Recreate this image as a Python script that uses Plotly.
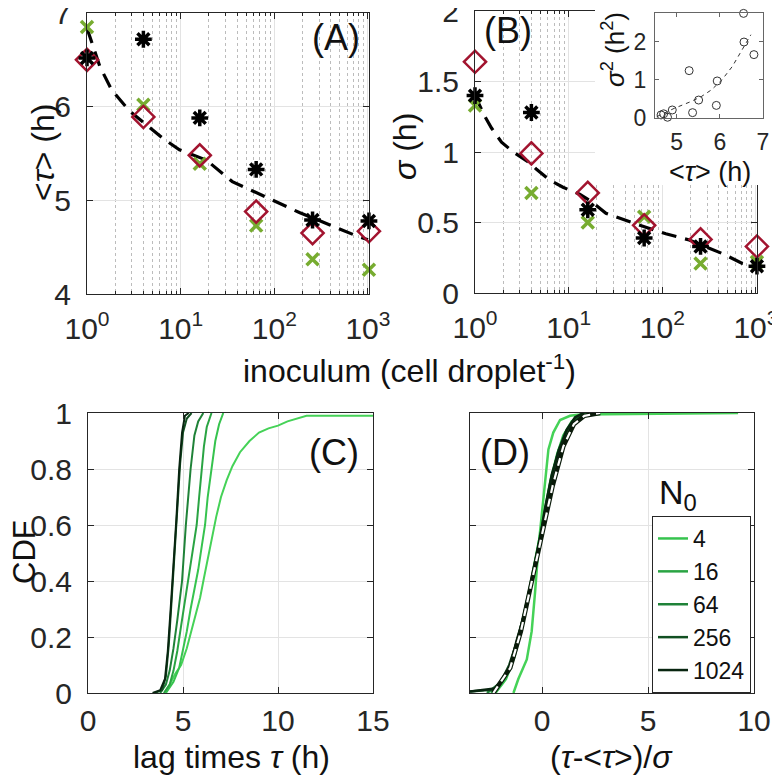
import plotly.graph_objects as go

W, H = 780, 781          # browser window
OFF = 8                  # default page (body) margin around the plot div
FW, FH = W - OFF, H - OFF
FONT = "Liberation Sans, Arial, sans-serif"
AX = "#262626"

# ---------------- data ----------------
inoculum = [1, 4, 16, 64, 256, 1024]
# panel A: mean lag time <tau> (h)
A_star = [6.52, 6.72, 5.88, 5.33, 4.79, 4.78]
A_diam = [6.50, 5.89, 5.48, 4.88, 4.65, 4.67]
A_cross = [6.85, 6.02, 5.39, 4.73, 4.37, 4.26]
A_fit_x = [1.0, 1.03, 1.37, 1.83, 2.87, 6.5, 9.7, 18.8, 35.6, 96, 185, 387, 800, 1000]
A_fit_y = [6.83, 6.80, 6.43, 6.18, 5.95, 5.66, 5.54, 5.43, 5.20, 5.00, 4.87, 4.74, 4.61, 4.58]
# panel B: sigma (h)
B_star = [1.40, 1.28, 0.59, 0.39, 0.33, 0.19]
B_diam = [1.64, 0.99, 0.71, 0.48, 0.38, 0.33]
B_cross = [1.33, 0.71, 0.50, 0.54, 0.21, 0.22]
B_fit_x = [1, 1.28, 1.5, 1.92, 2.56, 3.7, 4.5, 6.3, 8.7, 13.1, 17.4, 25, 52, 109, 194, 437, 715, 1000]
B_fit_y = [1.40, 1.25, 1.17, 1.07, 1.00, 0.93, 0.88, 0.80, 0.75, 0.70, 0.65, 0.565, 0.49, 0.42, 0.376, 0.28, 0.21, 0.19]
# inset: sigma^2 vs <tau>
I_x = [6.55, 6.56, 6.79, 5.29, 5.94, 5.51, 5.92, 5.37, 4.90, 4.70, 4.79, 4.64]
I_y = [2.74, 1.99, 1.66, 1.24, 0.97, 0.47, 0.33, 0.14, 0.21, 0.11, 0.02, 0.08]
I_fit_x = [4.54, 4.94, 5.33, 5.57, 5.81, 6.05, 6.29, 6.52, 6.72]
I_fit_y = [0.035, 0.25, 0.43, 0.56, 0.74, 1.00, 1.35, 1.79, 2.18]

# panel C: CDF of lag times (h)
C_curves = {
    "1": ([4.0, 4.3, 4.6, 4.9, 5.2, 5.4, 5.6, 5.9, 6.1, 6.3, 6.5, 6.75, 7.0, 7.3, 7.6, 8.0, 8.5, 9.0, 9.5, 10.0, 10.5, 11.0, 11.5, 15.0],
          [0, 0.03, 0.07, 0.10, 0.16, 0.21, 0.26, 0.34, 0.41, 0.48, 0.55, 0.63, 0.70, 0.76, 0.81, 0.86, 0.90, 0.93, 0.945, 0.955, 0.97, 0.98, 0.99, 0.99]),
    "4": ([4.1, 4.5, 4.8, 5.0, 5.2, 5.4, 5.6, 5.8, 6.0, 6.16, 6.3, 6.5, 6.7, 6.9, 7.12],
          [0, 0.04, 0.09, 0.15, 0.22, 0.30, 0.37, 0.44, 0.53, 0.60, 0.70, 0.80, 0.90, 0.96, 1.0]),
    "16": ([4.0, 4.3, 4.5, 4.7, 4.9, 5.1, 5.3, 5.5, 5.72, 5.85, 5.98, 6.1, 6.25, 6.5],
           [0, 0.03, 0.08, 0.15, 0.24, 0.33, 0.42, 0.51, 0.60, 0.70, 0.80, 0.88, 0.95, 1.0]),
    "64": ([3.8, 4.1, 4.3, 4.5, 4.7, 4.85, 4.95, 5.15, 5.4, 5.6, 5.8, 6.07],
           [0, 0.03, 0.08, 0.16, 0.26, 0.34, 0.40, 0.60, 0.80, 0.92, 0.97, 1.0]),
    "256": ([3.5, 3.9, 4.1, 4.25, 4.4, 4.55, 4.7, 4.85, 5.0, 5.2, 5.45],
            [0, 0.01, 0.06, 0.17, 0.33, 0.50, 0.67, 0.82, 0.93, 0.98, 1.0]),
    "1024": ([3.4, 3.8, 4.05, 4.2, 4.35, 4.5, 4.65, 4.8, 4.95, 5.1, 5.3],
             [0, 0.01, 0.05, 0.15, 0.30, 0.45, 0.62, 0.80, 0.93, 0.99, 1.0]),
}
# panel D: CDF of rescaled lag times
D_curves = {
    "1": ([-1.35, -1.12, -0.72, -0.49, -0.33, -0.17, -0.01, 0.14, 0.30, 0.53, 0.85, 1.32, 1.8, 9.25],
          [0, 0.05, 0.12, 0.22, 0.36, 0.52, 0.64, 0.75, 0.87, 0.93, 0.975, 0.99, 0.995, 1.0]),
    "4": ([-2.2, -1.7, -1.3, -0.9, -0.5, -0.2, 0.1, 0.4, 0.7, 1.0, 1.4, 1.8, 2.2],
          [0, 0.05, 0.13, 0.25, 0.40, 0.52, 0.64, 0.76, 0.85, 0.92, 0.97, 0.99, 1.0]),
    "16": ([-2.4, -1.8, -1.4, -1.0, -0.6, -0.25, 0.1, 0.45, 0.8, 1.2, 1.6, 2.0],
           [0, 0.05, 0.12, 0.23, 0.37, 0.50, 0.64, 0.77, 0.87, 0.94, 0.98, 1.0]),
    "64": ([-2.6, -1.9, -1.5, -1.1, -0.7, -0.3, 0.05, 0.4, 0.75, 1.1, 1.5, 1.9, 2.4],
           [0, 0.04, 0.10, 0.20, 0.33, 0.47, 0.61, 0.75, 0.86, 0.93, 0.97, 0.99, 1.0]),
    "256": ([-3.4, -2.3, -1.9, -1.55, -1.2, -0.85, -0.5, -0.15, 0.2, 0.5, 0.8, 1.2, 1.6, 2.0],
            [0.005, 0.012, 0.045, 0.10, 0.18, 0.28, 0.40, 0.53, 0.67, 0.78, 0.87, 0.94, 0.98, 1.0]),
    "1024": ([-3.4, -2.14, -1.83, -1.5, -1.19, -0.8, -0.49, -0.17, 0.14, 0.46, 0.77, 1.16, 1.56, 1.95],
             [0.005, 0.017, 0.05, 0.10, 0.19, 0.29, 0.40, 0.52, 0.66, 0.78, 0.86, 0.94, 0.985, 1.0]),
}
T_x = [-2.3, -1.5, -1.0, -0.5, 0.0, 0.5, 1.0, 1.5, 2.0, 2.74]
T_y = [0, 0.09, 0.22, 0.39, 0.56, 0.74, 0.88, 0.96, 0.99, 1.0]

curve_colors = {"1": "#45d257", "4": "#36c34e", "16": "#2aa443", "64": "#1f8238",
                "256": "#125022", "1024": "#082510"}
legend_names = ["4", "16", "64", "256", "1024"]

log_major = [1, 10, 100, 1000]
log_major_text = ["10<sup>0</sup>", "10<sup>1</sup>", "10<sup>2</sup>", "10<sup>3</sup>"]
log_minor = [m * d for d in (1, 10, 100) for m in range(2, 10)]

STAR_C, DIAM_C, CROSS_C = "#000000", "#a2142f", "#77ac30"


def px_x(p):
    return (p - OFF) / FW


def px_y(p):
    return 1 - (p - OFF) / FH


fig = go.Figure()


def add_markers(xa, ya, ystar, ydiam, ycross):
    fig.add_trace(go.Scatter(x=inoculum, y=ycross, mode="markers", xaxis=xa, yaxis=ya,
                             marker=dict(symbol="x-thin-open", size=12, color=CROSS_C,
                                         line=dict(width=3.5, color=CROSS_C)),
                             cliponaxis=False, showlegend=False))
    fig.add_trace(go.Scatter(x=inoculum, y=ydiam, mode="markers", xaxis=xa, yaxis=ya,
                             marker=dict(symbol="diamond-open", size=17, color=DIAM_C,
                                         line=dict(width=2.5, color=DIAM_C)),
                             cliponaxis=False, showlegend=False))
    fig.add_trace(go.Scatter(x=inoculum, y=ystar, mode="markers", xaxis=xa, yaxis=ya,
                             marker=dict(symbol="asterisk-open", size=14, color=STAR_C,
                                         line=dict(width=3.5, color=STAR_C)),
                             cliponaxis=False, showlegend=False))


# Panel A
fig.add_trace(go.Scatter(x=A_fit_x, y=A_fit_y, mode="lines", xaxis="x", yaxis="y",
                         line=dict(color="black", width=3.2, dash="15px,9px"), showlegend=False))
add_markers("x", "y", A_star, A_diam, A_cross)
# Panel B
fig.add_trace(go.Scatter(x=B_fit_x, y=B_fit_y, mode="lines", xaxis="x2", yaxis="y2",
                         line=dict(color="black", width=3.2, dash="15px,9px"), showlegend=False))
add_markers("x2", "y2", B_star, B_diam, B_cross)

# Panel C
for key in ["1", "4", "16", "64", "256", "1024"]:
    xs, ys = C_curves[key]
    fig.add_trace(go.Scatter(x=xs, y=ys, mode="lines", xaxis="x3", yaxis="y3",
                             line=dict(color=curve_colors[key], width=2),
                             showlegend=False))

# Panel D
for key in ["1", "4", "16", "64", "256", "1024"]:
    xs, ys = D_curves[key]
    fig.add_trace(go.Scatter(x=xs, y=ys, mode="lines", xaxis="x4", yaxis="y4",
                             line=dict(color=curve_colors[key], width=2.5),
                             name=key, showlegend=key in legend_names))
fig.add_trace(go.Scatter(x=T_x, y=T_y, mode="lines", xaxis="x4", yaxis="y4",
                         line=dict(color="#0a1a0a", width=4.5), showlegend=False))
fig.add_trace(go.Scatter(x=T_x, y=T_y, mode="lines", xaxis="x4", yaxis="y4",
                         line=dict(color="white", width=2.2, dash="8px,6px"), showlegend=False))

# helper subplot (white background behind the inset and its labels)
fig.add_trace(go.Scatter(x=[], y=[], xaxis="x5", yaxis="y5", showlegend=False, hoverinfo="skip"))

# Inset
fig.add_trace(go.Scatter(x=I_fit_x, y=I_fit_y, mode="lines", xaxis="x6", yaxis="y6",
                         line=dict(color="#333", width=1, dash="4px,4px"), showlegend=False))
fig.add_trace(go.Scatter(x=I_x, y=I_y, mode="markers", xaxis="x6", yaxis="y6",
                         marker=dict(symbol="circle-open", size=8, color="#333",
                                     line=dict(width=1, color="#333")),
                         cliponaxis=False, showlegend=False))


def axis(domain, anchor, **kw):
    d = dict(domain=domain, anchor=anchor, showline=True, linecolor=AX, linewidth=1,
             mirror="ticks", ticks="inside", ticklen=6, tickcolor=AX,
             tickfont=dict(size=30, color=AX, family=FONT), showgrid=True,
             gridcolor="#e3e3e3", gridwidth=1, zeroline=False, automargin=False,
             ticklabeloverflow="allow")
    d.update(kw)
    return d


logminor = dict(tickmode="array", tickvals=log_minor, showgrid=True, gridcolor="#bcbcbc",
                griddash="dot", gridwidth=1, ticks="inside", ticklen=3, tickcolor=AX)

xA = [px_x(87), px_x(369)]
yA = [px_y(294), px_y(13)]
xB = [px_x(475), px_x(757)]
yB = [px_y(293), px_y(11)]
xC = [px_x(88), px_x(373)]
yC = [px_y(693), px_y(413)]
xD = [px_x(470), px_x(754)]
xH = [px_x(595), 1.0]
yH = [px_y(185), 1.0]
xI = [px_x(655), px_x(763)]
yI = [px_y(118), px_y(13)]

inset_axis = dict(showline=True, linecolor="#666", mirror="ticks", ticks="inside", ticklen=4,
                  tickcolor="#666", showgrid=False, zeroline=False, ticklabelstandoff=3,
                  automargin=False, ticklabeloverflow="allow",
                  tickfont=dict(size=23, color=AX, family=FONT))

fig.update_layout(
    template="none",
    width=FW, height=FH,
    margin=dict(l=0, r=0, t=0, b=0),
    paper_bgcolor="white", plot_bgcolor="#ffffff",
    font=dict(family=FONT, color=AX),
    xaxis=axis(xA, "y", type="log", range=[0, 3.011], tickmode="array", tickvals=log_major,
               ticktext=log_major_text, minor=logminor, ticklabelstandoff=8),
    yaxis=axis(yA, "x", range=[4, 7], tickvals=[4, 5, 6, 7], ticklabelstandoff=9),
    xaxis2=axis(xB, "y2", type="log", range=[0, 3.011], tickmode="array", tickvals=log_major,
                ticktext=log_major_text, minor=logminor, ticklabelstandoff=8),
    yaxis2=axis(yB, "x2", range=[0, 2], tickvals=[0, 0.5, 1, 1.5, 2], ticklabelstandoff=9),
    xaxis3=axis(xC, "y3", range=[0, 15], tickvals=[0, 5, 10, 15], ticklabelstandoff=1),
    yaxis3=axis(yC, "x3", range=[0, 1], tickvals=[0, 0.2, 0.4, 0.6, 0.8, 1],
                ticktext=["0", "0.2", "0.4", "0.6", "0.8", "1"], ticklabelstandoff=9),
    xaxis4=axis(xD, "y4", range=[-3.4, 10], tickvals=[0, 5, 10], ticklabelstandoff=1),
    yaxis4=axis(yC, "x4", range=[0, 1], tickvals=[0, 0.2, 0.4, 0.6, 0.8, 1], showticklabels=False),
    xaxis5=dict(domain=xH, anchor="y5", range=[0, 1], visible=False, fixedrange=True,
                showgrid=False, automargin=False),
    yaxis5=dict(domain=yH, anchor="x5", range=[0, 1], visible=False, fixedrange=True,
                showgrid=False, automargin=False),
    xaxis6=dict(domain=xI, anchor="y6", range=[4.5, 7], tickvals=[5, 6, 7], **inset_axis),
    yaxis6=dict(domain=yI, anchor="x6", range=[0, 2.75], tickvals=[0, 1, 2], **inset_axis),
    legend=dict(x=px_x(652), y=px_y(516), xanchor="left", yanchor="top",
                bgcolor="white", bordercolor=AX, borderwidth=1,
                font=dict(size=23, color="#111", family=FONT), itemwidth=30,
                tracegroupgap=0),
    shapes=[dict(type="rect", xref="x5", yref="y5", x0=0, x1=1, y0=0, y1=1,
                 layer="below", fillcolor="white", line=dict(width=0))],
)


def ann(text, x, y, size=32, angle=0, color="#111"):
    fig.add_annotation(text=text, x=px_x(x), y=px_y(y), xref="paper", yref="paper",
                       showarrow=False, xanchor="center", yanchor="middle",
                       textangle=angle, font=dict(size=size, family=FONT, color=color))


ann("(A)", 336, 37, size=36)
ann("(B)", 508, 30, size=36)
ann("(C)", 334, 452, size=36)
ann("(D)", 505, 452, size=36)
ann("inoculum (cell droplet<sup>-1</sup>)", 410, 369)
ann("&lt;<i>τ</i>&gt; (h)", 43, 153, angle=-90)
ann("<i>σ</i> (h)", 405, 147, angle=-90)
ann("CDF", 24, 552, size=31, angle=-90)
ann("lag times <i>τ</i> (h)", 232, 757)
ann("(<i>τ</i>-&lt;<i>τ</i>&gt;)/<i>σ</i>", 611, 757)
ann("&lt;<i>τ</i>&gt; (h)", 710, 172, size=27)
ann("<i>σ</i><sup>2</sup> (h<sup>2</sup>)", 613, 50, size=26, angle=-90)
ann("N<sub>0</sub>", 678, 494, size=34)

fig.write_html("out.html")
